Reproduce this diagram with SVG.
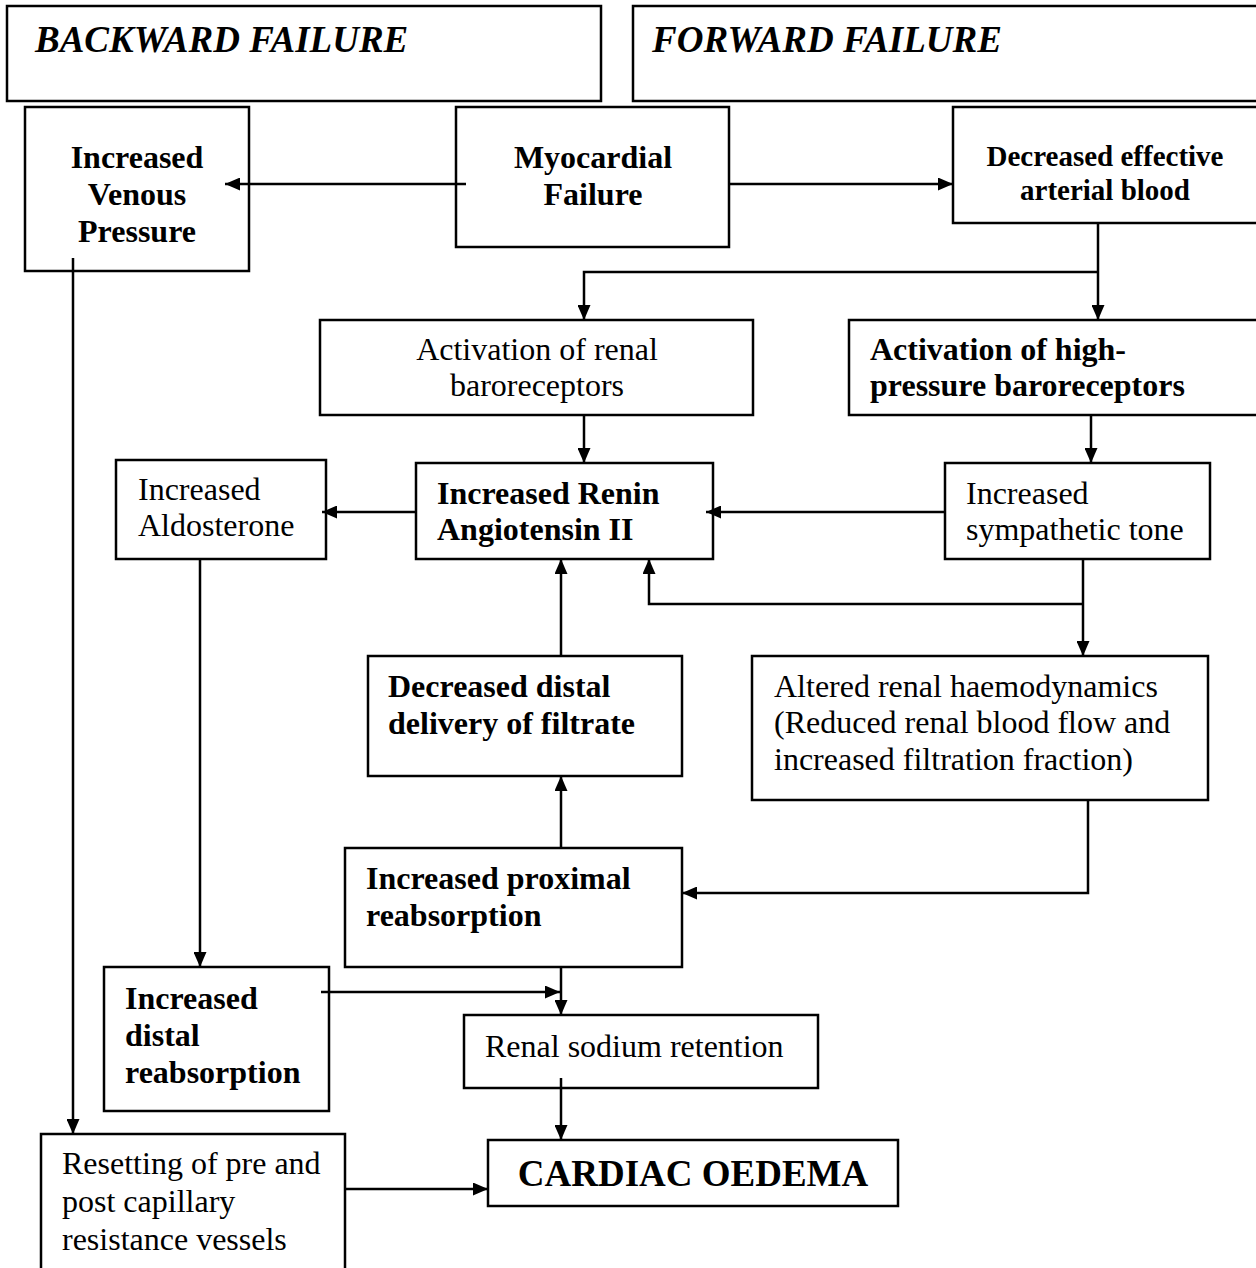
<svg xmlns="http://www.w3.org/2000/svg" width="1256" height="1268" viewBox="0 0 1256 1268">
  <style>
    .box { fill: #ffffff; stroke: #000000; stroke-width: 2.5; }
    .t { font-family: "Liberation Serif", "Times New Roman", serif; font-size: 32px; fill: #000000; }
    .b { font-weight: bold; }
    .sm { font-size: 29px; }
    .hdr { font-family: "Liberation Serif", "Times New Roman", serif; font-size: 37px; font-weight: bold; font-style: italic; fill: #000000; }
    .big { font-size: 37px; font-weight: bold; }
    .c { text-anchor: middle; }
    .wire { fill: none; stroke: #000000; stroke-width: 2.5; }
  </style>
  <defs>
    <marker id="arrow" viewBox="0 0 15 13" refX="15" refY="6.5" markerWidth="15" markerHeight="13" markerUnits="userSpaceOnUse" orient="auto">
      <path d="M0,0 L15,6.5 L0,13 Z" fill="#000000"/>
    </marker>
  </defs>

  <rect width="1256" height="1268" fill="#ffffff"/>

  <!-- section headers -->
  <g id="backward-failure">
    <rect class="box" x="7" y="6" width="594" height="95"/>
    <text class="hdr" x="35" y="52">BACKWARD FAILURE</text>
  </g>
  <g id="forward-failure">
    <rect class="box" x="633" y="6" width="630" height="95"/>
    <text class="hdr" x="652" y="52">FORWARD FAILURE</text>
  </g>

  <!-- nodes -->
  <g id="increased-venous-pressure">
    <rect class="box" x="25" y="107" width="224" height="164"/>
    <text class="t b c" x="137" y="168">Increased</text>
    <text class="t b c" x="137" y="205">Venous</text>
    <text class="t b c" x="137" y="242">Pressure</text>
  </g>
  <g id="myocardial-failure">
    <rect class="box" x="456" y="107" width="273" height="140"/>
    <text class="t b c" x="593" y="168">Myocardial</text>
    <text class="t b c" x="593" y="205">Failure</text>
  </g>
  <g id="decreased-effective-arterial-blood">
    <rect class="box" x="953" y="107" width="310" height="116"/>
    <text class="t b sm c" x="1105" y="166">Decreased effective</text>
    <text class="t b sm c" x="1105" y="200">arterial blood</text>
  </g>
  <g id="renal-baroreceptors">
    <rect class="box" x="320" y="320" width="433" height="95"/>
    <text class="t c" x="537" y="360">Activation of renal</text>
    <text class="t c" x="537" y="396">baroreceptors</text>
  </g>
  <g id="high-pressure-baroreceptors">
    <rect class="box" x="849" y="320" width="414" height="95"/>
    <text class="t b" x="870" y="360">Activation of high-</text>
    <text class="t b" x="870" y="396">pressure baroreceptors</text>
  </g>
  <g id="increased-aldosterone">
    <rect class="box" x="116" y="460" width="210" height="99"/>
    <text class="t" x="138" y="500">Increased</text>
    <text class="t" x="138" y="536">Aldosterone</text>
  </g>
  <g id="renin-angiotensin">
    <rect class="box" x="416" y="463" width="297" height="96"/>
    <text class="t b" x="437" y="504">Increased Renin</text>
    <text class="t b" x="437" y="540">Angiotensin II</text>
  </g>
  <g id="sympathetic-tone">
    <rect class="box" x="945" y="463" width="265" height="96"/>
    <text class="t" x="966" y="504">Increased</text>
    <text class="t" x="966" y="540">sympathetic tone</text>
  </g>
  <g id="decreased-distal-delivery">
    <rect class="box" x="368" y="656" width="314" height="120"/>
    <text class="t b" x="388" y="697">Decreased distal</text>
    <text class="t b" x="388" y="734">delivery of filtrate</text>
  </g>
  <g id="altered-renal-haemodynamics">
    <rect class="box" x="752" y="656" width="456" height="144"/>
    <text class="t" x="774" y="697">Altered renal haemodynamics</text>
    <text class="t" x="774" y="733">(Reduced renal blood flow and</text>
    <text class="t" x="774" y="770">increased filtration fraction)</text>
  </g>
  <g id="proximal-reabsorption">
    <rect class="box" x="345" y="848" width="337" height="119"/>
    <text class="t b" x="366" y="889">Increased proximal</text>
    <text class="t b" x="366" y="926">reabsorption</text>
  </g>
  <g id="distal-reabsorption">
    <rect class="box" x="104" y="967" width="225" height="144"/>
    <text class="t b" x="125" y="1009">Increased</text>
    <text class="t b" x="125" y="1046">distal</text>
    <text class="t b" x="125" y="1083">reabsorption</text>
  </g>
  <g id="renal-sodium-retention">
    <rect class="box" x="464" y="1015" width="354" height="73"/>
    <text class="t" x="485" y="1057">Renal sodium retention</text>
  </g>
  <g id="resetting-resistance-vessels">
    <rect class="box" x="41" y="1134" width="304" height="150"/>
    <text class="t" x="62" y="1174">Resetting of pre and</text>
    <text class="t" x="62" y="1212">post capillary</text>
    <text class="t" x="62" y="1250">resistance vessels</text>
  </g>
  <g id="cardiac-oedema">
    <rect class="box" x="488" y="1140" width="410" height="66"/>
    <text class="t big c" x="693" y="1186">CARDIAC OEDEMA</text>
  </g>

  <!-- connectors -->
  <g id="connectors" class="wire">
    <path d="M466,184 H225" marker-end="url(#arrow)"/>
    <path d="M729,184 H953" marker-end="url(#arrow)"/>
    <path d="M1098,223 V320" marker-end="url(#arrow)"/>
    <path d="M1098,272 H584 V320" marker-end="url(#arrow)"/>
    <path d="M584,415 V463" marker-end="url(#arrow)"/>
    <path d="M1091,415 V463" marker-end="url(#arrow)"/>
    <path d="M945,512 H706" marker-end="url(#arrow)"/>
    <path d="M416,512 H322" marker-end="url(#arrow)"/>
    <path d="M1083,559 V656" marker-end="url(#arrow)"/>
    <path d="M1083,604 H649 V559" marker-end="url(#arrow)"/>
    <path d="M561,656 V559" marker-end="url(#arrow)"/>
    <path d="M561,848 V776" marker-end="url(#arrow)"/>
    <path d="M1088,800 V893 H682" marker-end="url(#arrow)"/>
    <path d="M200,559 V967" marker-end="url(#arrow)"/>
    <path d="M561,967 V1015" marker-end="url(#arrow)"/>
    <path d="M321,992 H560" marker-end="url(#arrow)"/>
    <path d="M561,1078 V1140" marker-end="url(#arrow)"/>
    <path d="M73,258 V1134" marker-end="url(#arrow)"/>
    <path d="M345,1189 H488" marker-end="url(#arrow)"/>
  </g>
</svg>
